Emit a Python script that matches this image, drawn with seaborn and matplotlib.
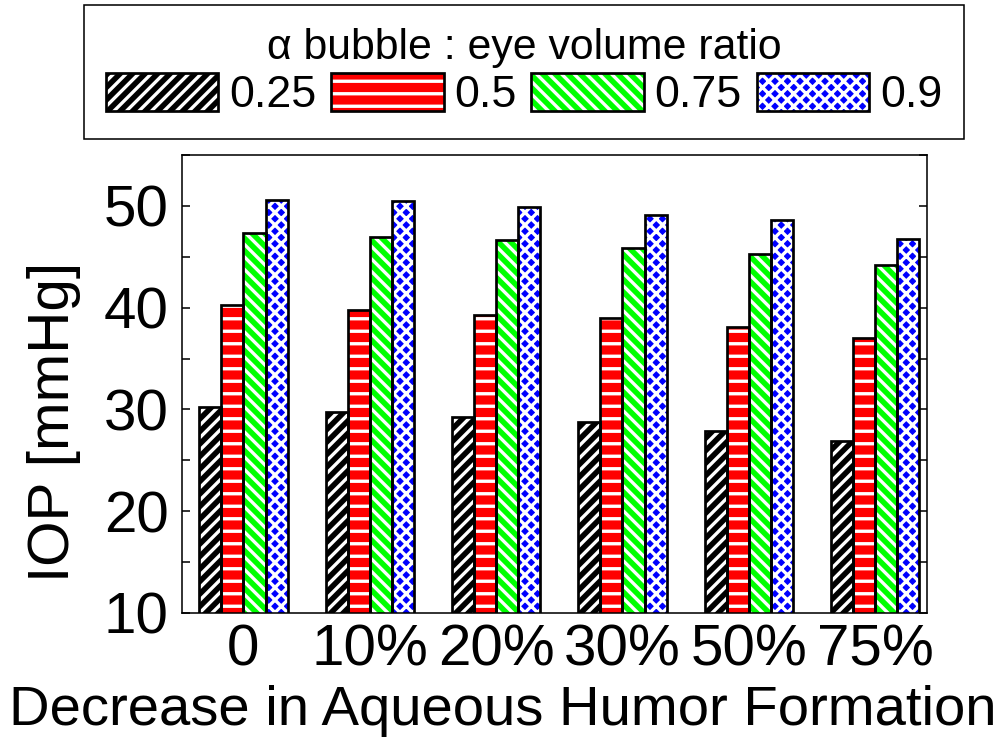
import numpy as np
import pandas as pd
import matplotlib
matplotlib.use('Agg')
import matplotlib.pyplot as plt
import seaborn as sns
from matplotlib.patches import Rectangle, Patch
from matplotlib.legend_handler import HandlerTuple
from matplotlib.ticker import MultipleLocator

# ---- data ----
decrease = ['0', '10%', '20%', '30%', '50%', '75%']
ratios = ['0.25', '0.5', '0.75', '0.9']
iop_025 = [30.2, 29.7, 29.3, 28.8, 27.9, 26.9]
iop_050 = [40.3, 39.8, 39.3, 39.0, 38.1, 37.0]
iop_075 = [47.3, 46.9, 46.6, 45.9, 45.3, 44.2]
iop_090 = [50.6, 50.5, 49.9, 49.1, 48.6, 46.7]

colors = ['#000000', '#FF0000', '#00FF00', '#0000FF']
hatches = ['//', '-', '\\\\', 'xx']

series = [iop_025, iop_050, iop_075, iop_090]
rows = []
for r, vals in zip(ratios, series):
    for d, v in zip(decrease, vals):
        rows.append({'decrease': d, 'ratio': r, 'iop': v})
df = pd.DataFrame(rows)

sns.set_style('ticks')
plt.rcParams['font.family'] = ['Liberation Sans', 'DejaVu Sans']
plt.rcParams['hatch.linewidth'] = 3.2
for k in ['text.color', 'axes.labelcolor', 'xtick.color', 'ytick.color',
          'xtick.labelcolor', 'ytick.labelcolor']:
    plt.rcParams[k] = 'black'

DPI = 75
fig = plt.figure(figsize=(1005 / DPI, 744 / DPI), dpi=DPI)
ax = fig.add_axes([182 / 1005, 1 - 613 / 744, 745 / 1005, 458 / 744])

sns.barplot(data=df, x='decrease', y='iop', hue='ratio', order=decrease,
            hue_order=ratios, palette=colors, width=0.7, errorbar=None,
            saturation=1, legend=False, ax=ax)

for cont, h in zip(ax.containers, hatches):
    for bar in cont:
        bar.set_hatch(h)
        bar.set_edgecolor('white')
        bar.set_linewidth(0)
        ax.add_patch(Rectangle((bar.get_x(), bar.get_y()), bar.get_width(),
                               bar.get_height(), fill=False, edgecolor='black',
                               linewidth=2.6, zorder=bar.get_zorder() + 0.1))

ax.set_ylim(10, 55)
ax.set_xlim(-0.486, 5.41)
ax.yaxis.set_major_locator(MultipleLocator(10))
ax.yaxis.set_minor_locator(MultipleLocator(5))
ax.tick_params(axis='y', which='both', direction='in', left=True, right=True,
               length=8, width=1.5, color='black', labelsize=56, pad=13)
ax.tick_params(axis='x', length=0, labelsize=56, pad=10)
for s in ax.spines.values():
    s.set_linewidth(1.5)
    s.set_color('black')

ax.set_xlabel('Decrease in Aqueous Humor Formation', fontsize=54)
ax.xaxis.set_label_coords(0.430, -0.158)
ax.set_ylabel('IOP [mmHg]', fontsize=56)
ax.yaxis.set_label_coords(-0.1356, 0.417)

handles = [(Patch(facecolor=c, edgecolor='white', hatch=h, linewidth=0),
            Patch(facecolor='none', edgecolor='black', linewidth=2.6))
           for c, h in zip(colors, hatches)]
leg = fig.legend(handles, ratios, handler_map={tuple: HandlerTuple(ndivide=1, pad=0)},
                 ncol=4, title='\u03b1 bubble : eye volume ratio', loc='center',
                 bbox_to_anchor=(524 / 1005, 1 - 72 / 744), fontsize=43,
                 title_fontsize=41, handlelength=2.51, handleheight=0.94,
                 handletextpad=0.24, columnspacing=0.33, borderpad=0.5,
                 labelspacing=0.12, frameon=True, fancybox=False,
                 edgecolor='black', framealpha=1)
leg.get_frame().set_linewidth(1.5)

fig.savefig('out.png', dpi=DPI)
